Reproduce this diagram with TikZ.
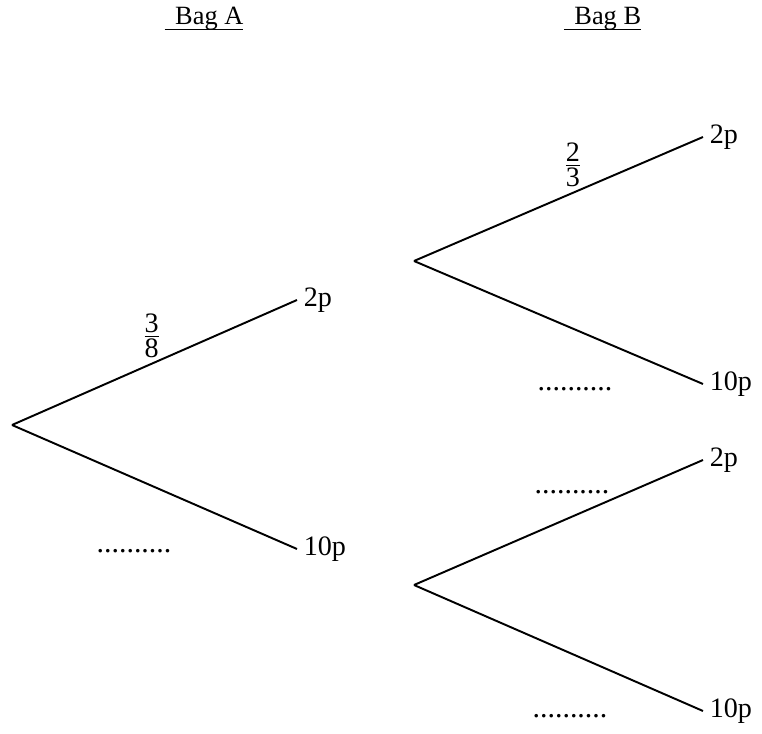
\documentclass[tikz,border=0pt]{standalone}
\usepackage{amsmath}
\usepackage{fontspec}
\setmainfont{Liberation Serif}
\newcommand{\baghead}[1]{\setbox0=\hbox{\hspace{0.4em}#1}\rlap{\rule[-0.19em]{\wd0}{0.05em}}\box0}
\newcommand{\branchfrac}[2]{$\genfrac{}{}{0.8pt}{1}{\textstyle\text{#1}}{\textstyle\text{#2}}$}

\begin{document}
\begin{tikzpicture}[font=\fontsize{16}{19}\selectfont, line width=1.1pt,
    leaf/.style={anchor=west},
    prob/.style={above, inner sep=3pt},
    head/.style={anchor=base, font=\fontsize{15}{18}\selectfont},
    blank/.style={anchor=base, font=\fontsize{17}{20}\selectfont}]
    \useasboundingbox (0,0) rectangle (15.24,14.66);
    % headings
    \node[head] (headA) at (4.08,14.16) {\baghead{Bag A}};
    \node[head] (headB) at (12.05,14.16) {\baghead{Bag B}};
    % Bag A
    \coordinate (A) at (0.24,6.16);
    \node[leaf] (A2) at (5.94,8.66) {2p};
    \node[leaf] (A10) at (5.94,3.68) {10p};
    \draw (A) -- node[prob, pos=0.49] (pA2) {\branchfrac{3}{8}} (A2.west);
    \draw (A) -- (A10.west);
    \node[blank] (dotsA) at (2.68,3.60) {..........};
    % Bag B after 2p
    \coordinate (B) at (8.28,9.44);
    \node[leaf] (B2) at (14.06,11.92) {2p};
    \node[leaf] (B10) at (14.06,6.98) {10p};
    \draw (B) -- node[prob, pos=0.55] (pB2) {\branchfrac{2}{3}} (B2.west);
    \draw (B) -- (B10.west);
    \node[blank] (dotsB) at (11.50,6.84) {..........};
    % Bag B after 10p
    \coordinate (C) at (8.28,2.96);
    \node[leaf] (C2) at (14.06,5.46) {2p};
    \node[leaf] (C10) at (14.06,0.44) {10p};
    \draw (C) -- (C2.west);
    \draw (C) -- (C10.west);
    \node[blank] (dotsC2) at (11.44,4.78) {..........};
    \node[blank] (dotsC10) at (11.40,0.32) {..........};
\end{tikzpicture}
\end{document}
